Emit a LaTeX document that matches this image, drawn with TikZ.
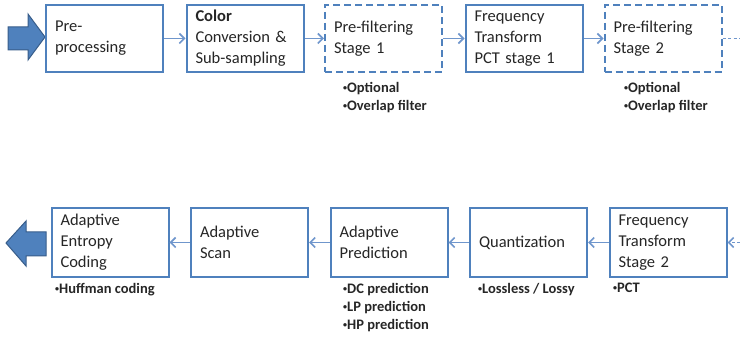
\documentclass[tikz,border=0pt]{standalone}
\usepackage{fontspec}
\setmainfont{Carlito}
\usetikzlibrary{arrows.meta}
\definecolor{boxblue}{HTML}{4F81BD}
\definecolor{linkblue}{HTML}{6F96CC}
\definecolor{arrowedge}{HTML}{385D8A}
\definecolor{txt}{HTML}{262626}
% small list bullet
\newcommand{\smallbul}{{\fontsize{8}{8}\selectfont\raisebox{1.8pt}{•}}}
\tikzset{
  stagebox/.style={draw=boxblue, line width=2pt, fill=white, minimum height=67pt,
    text width=99pt, inner xsep=9pt, align=left, text=txt,
    font=\fontsize{16.5}{21}\selectfont},
  optbox/.style={stagebox, dash pattern=on 7pt off 4pt},
  link/.style={draw=linkblue, line width=1.6pt, -{Straight Barb[length=5pt,width=10pt]}},
  optlink/.style={link, dash pattern=on 3pt off 2.5pt},
  notes/.style={anchor=north west, align=left, inner sep=0pt, text=txt,
    font=\fontsize{14.5}{18}\selectfont\bfseries},
  bigarrow/.style={fill=boxblue, draw=arrowedge, line width=1pt, line join=miter}
}
\begin{document}
\begin{tikzpicture}[x=1pt, y=-1pt]
\useasboundingbox (0,0) rectangle (740,339);

% encoder input
\filldraw[bigarrow] (8,27) -- (28,27) -- (28,14) -- (45,37) -- (28,60) -- (28,50) -- (8,50) -- cycle;

% first row of stages
\node[stagebox] (pre) at (104.5,38.5) {Pre-\\processing};
\node[stagebox] (color) at (245,38.5) {\textbf{Color}\\Conversion \&\\Sub-sampling};
\node[optbox] (pf1) at (383.5,38.5) {Pre-filtering\\Stage 1};
\node[stagebox] (fq1) at (524,38.5) {Frequency\\Transform\\PCT stage 1};
\node[optbox] (pf2) at (663,38.5) {Pre-filtering\\Stage 2};
\coordinate (outR) at (740,38.5);

\draw[link] (pre) -- (color);
\draw[link] (color) -- (pf1);
\draw[link] (pf1) -- (fq1);
\draw[link] (fq1) -- (pf2);
\draw[draw=linkblue, line width=1.6pt, dash pattern=on 3pt off 2.5pt] (pf2) -- (outR);

\node[notes] (n1) at (343,82) {\smallbul Optional\\\smallbul Overlap filter};
\node[notes] (n2) at (624,82) {\smallbul Optional\\\smallbul Overlap filter};

% second row of stages
\node[stagebox, minimum height=69pt] (aec) at (110,242.5) {Adaptive\\Entropy\\Coding};
\node[stagebox, minimum height=69pt] (scan) at (249.5,242.5) {Adaptive\\Scan};
\node[stagebox, minimum height=69pt] (pred) at (389,242.5) {Adaptive\\Prediction};
\node[stagebox, minimum height=69pt] (quant) at (528.5,242.5) {Quantization};
\node[stagebox, minimum height=69pt] (fq2) at (668,242.5) {Frequency\\Transform\\Stage 2};
\coordinate (inR) at (740,242.5);

\draw[optlink] (inR) -- (fq2);
\draw[link] (fq2) -- (quant);
\draw[link] (quant) -- (pred);
\draw[link] (pred) -- (scan);
\draw[link] (scan) -- (aec);

\node[notes] (n3) at (55,283) {\smallbul Huffman coding};
\node[notes] (n4) at (343,283) {\smallbul DC prediction\\\smallbul LP prediction\\\smallbul HP prediction};
\node[notes] (n5) at (478,283) {\smallbul Lossless / Lossy};
\node[notes] (n6) at (613,283) {\smallbul PCT};

% encoder output
\filldraw[bigarrow] (46,232) -- (26,232) -- (26,221) -- (6,243) -- (26,266) -- (26,256) -- (46,256) -- cycle;
\end{tikzpicture}
\end{document}
